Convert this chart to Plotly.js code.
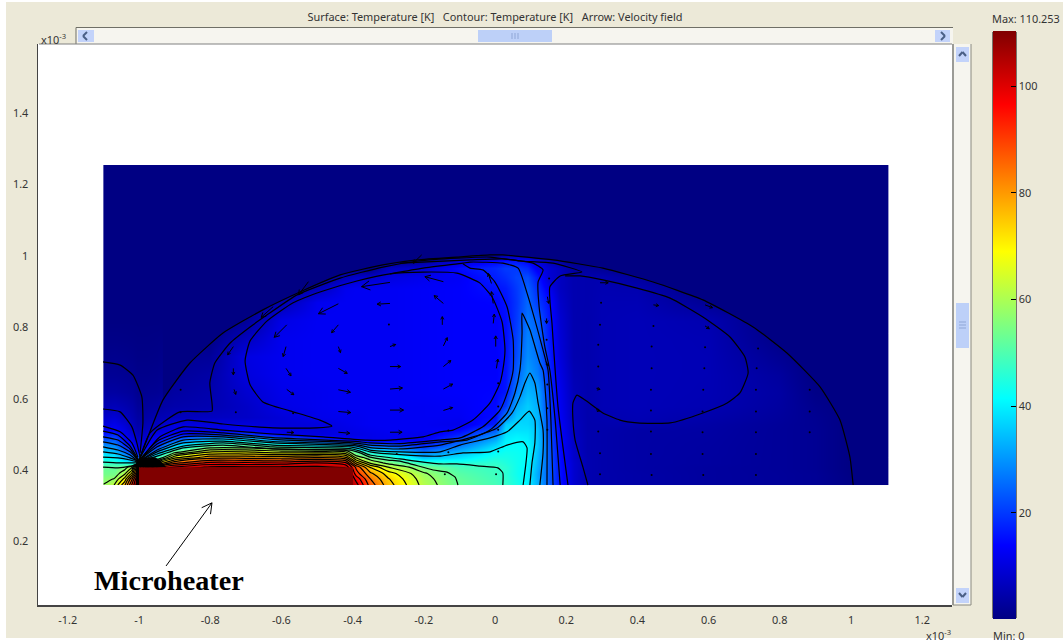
<!DOCTYPE html>
<html><head><meta charset="utf-8"><script src="https://cdn.plot.ly/plotly-3.0.1.min.js"></script>
<style>html,body{margin:0;padding:0;background:#fff}#plot{width:1063px;height:644px}</style></head>
<body><div id="plot"></div>
<script>
// Grid (units of 1e-3 m)
const gridX=[-1.1,-1.07,-1.04,-1.02,-1.005,-.98,-.95,-.9,-.8,-.7,-.6,-.5,-.42,-.39,-.35,-.3,-.2,-.1,0,.03,.06,.09,.12,.15,.18,.22,.26,.3,.4,.6,.8,.9,1,1.104];
const gridY=[.358,.375,.39,.408,.42,.435,.45,.465,.485,.5,.515,.53,.55,.58,.62,.67,.72,.77,.82,.87,.91,.94,.965,.985,1,1.02,1.1,1.255];
const temperature=[
[58,63,78,95,108,110,110,110,110,110,110,110,110,102,87,76,61,52.5,49,47,44,40,33,24,15.75,9,5.25,4.5,4,3,2.5,2,.5,0],
[56,58,70,88,105,110,110,110,110,110,110,110,110,98,84,74,60,52,48.5,46.5,43.5,40,32.5,24,15.5,8.5,5,4.5,4,3,2.5,2,.3,0],
[54,54,62,75,95,110,110,110,110,110,110,110,110,92,80,71,58.5,51,48,46,43,40,32,24,15.5,8.5,5,4.5,4,3,2.5,2,.2,0],
[52.5,52,55,62,88,105,95,100,106,106,106,106,104,88,73,63,54,49,47.5,46,43,40.5,33,24,15.5,8.5,5,4.5,3.8,3,2.4,1.8,0,0],
[47,47,44,42,50,60,72,88,96,96,97,100,96,76,62,56,47,45.5,46.5,45,43,41,33.5,24,15.3,8.5,5,4.5,3.8,3.2,2.4,1.8,0,0],
[42,41,34,28,25,32,50,72,82,82,82,84,80,62,54,49,36,39,44.5,44,42.8,41.5,34,24,15,8,5,4.5,3.8,3.2,2.4,1.8,0,0],
[37,35,26,20,15,20,30,56,69,69,66,66,64,50,44,40,27,34,41.5,43,42.5,41.5,34.5,23.8,15,8,4.8,4.5,3.8,3.3,2.4,1.8,0,0],
[31.5,30,20,15.5,11,14,20,40,55,55,52,46,46,36,30,27,20,28.5,38.5,41.5,42,41,35.5,23.5,14.5,7.5,4.8,4.5,3.8,3.3,2.4,1.8,0,0],
[23,24,15,11,8,10,14,24,38,41,30,20,14,14,11.5,12,13,22,33,40,41,40,35.5,23,14.5,7.5,4.8,4.5,3.8,3.4,2.4,1.8,0,0],
[16,18,12,9,6,8,11,14,18,20,12,10.5,11,11,11.5,12,11.5,17,27.5,38.5,39.5,39,35,22.5,14,7,4.8,4.5,3.8,3.5,2.4,1.8,0,0],
[12,13,10.5,7,5,6.5,8.5,11,11,12,10.5,9.8,11,11.5,12,12.5,12.5,13.5,22.5,37.5,38,38,35,22,14,7,4.7,4.6,3.9,3.6,2.4,1.8,0,0],
[10,11.5,9,6,4,5.5,7,10.5,10,10,9.5,10,11.5,12,12.5,12.5,12.5,11.5,17,35.5,37.5,37,34,21.5,13.5,7,4.7,4.7,5,3.8,2.5,1.7,0,0],
[8,9,7,5,3.5,4,5.2,6.5,7,7.5,9.5,11.5,12,12,12.5,12.5,12.5,12.5,15,28,35.5,36.5,33.5,21,13,6.5,4.7,5,5.5,4.4,2.8,1.6,0,0],
[5.5,6,5,4,2.5,2.8,3.5,4.5,5.2,7.5,11,12,12.5,12.5,12.5,12.5,12.5,13,14.5,20,32.5,36,32.5,20.5,12.5,6.5,4.7,5.5,5.8,5.2,3.2,1.2,0,0],
[3.5,3.5,3,2.5,1.5,1.8,2,3.5,4.8,8.5,11.5,12,12.5,12.5,12.5,12.5,13,13.5,14,16,27.5,33.5,31.5,19.5,12,6,4.7,5.5,5.8,5.4,3.5,.5,0,0],
[2,2,1.8,1.5,1,1,1.2,2.5,4,10,12,12.5,12.5,12.5,12.5,12.5,13,13.5,13.5,15.5,24,31,27.5,18.5,11,5.5,4.7,5.5,5.8,5.5,3,0,0,0],
[1,1.2,1,.8,.5,.5,.6,2,2.5,10.5,12,12.5,12.5,12.5,12.5,12.5,13,13.5,13.5,15,22,29,26,17.5,10,5,4.7,5.5,5.8,5.5,1.8,0,0,0],
[.5,.5,.4,.3,.2,.2,.3,.8,.5,6.5,12,12.5,12.5,12.5,12.5,12.5,13,13.5,13.5,15,21,28,25,17,9.5,5,4.7,5.5,5.8,5.4,.5,0,0,0],
[0,0,0,0,0,0,0,0,0,2,11,12.5,12.5,12.5,12.5,12.5,13,13.5,13.5,15,20,26.5,24,16.5,9,5,4.7,5.5,5.8,5,0,0,0,0],
[0,0,0,0,0,0,0,0,0,0,5,12,12.5,12.5,12.5,12.5,13,13.5,14,15.5,19.5,25,20,15.5,8,5,4.8,5.4,5.5,2,0,0,0,0],
[0,0,0,0,0,0,0,0,0,0,0,6,12,12.5,12.5,12.5,13,13.5,15.5,16.5,20,24,18,12,7,5,4.8,5.2,5,0,0,0,0,0],
[0,0,0,0,0,0,0,0,0,0,0,0,6,8,8,10.5,12,13,17,18.5,21,22,16,9,7,5,4.8,5,3,0,0,0,0,0],
[0,0,0,0,0,0,0,0,0,0,0,0,0,0,0,7,9,15,18,20,20,18,12,9,7,3,3,2,.5,0,0,0,0,0],
[0,0,0,0,0,0,0,0,0,0,0,0,0,0,0,0,2.5,10,14,16,16,14,10,6,4,.5,0,0,0,0,0,0,0,0],
[0,0,0,0,0,0,0,0,0,0,0,0,0,0,0,0,0,1.5,2,5,6,6,3,1,0,0,0,0,0,0,0,0,0,0],
[0,0,0,0,0,0,0,0,0,0,0,0,0,0,0,0,0,0,0,0,0,0,0,0,0,0,0,0,0,0,0,0,0,0],
[0,0,0,0,0,0,0,0,0,0,0,0,0,0,0,0,0,0,0,0,0,0,0,0,0,0,0,0,0,0,0,0,0,0],
[0,0,0,0,0,0,0,0,0,0,0,0,0,0,0,0,0,0,0,0,0,0,0,0,0,0,0,0,0,0,0,0,0,0]];

// Traced isotherms
const dropX=[-1.003,-.992,-.933,-.857,-.764,-.652,-.548,-.435,-.315,-.219,-.107,-.014,.022,.163,.303,.444,.584,.725,.82,.913,.969,.997,1.006];
const dropY=[.4225,.448,.596,.7,.784,.849,.899,.947,.975,.989,.997,1.003,1.003,.989,.966,.927,.877,.801,.728,.633,.54,.436,.358];
const outerX=[-.997,-.969,-.885,-.795,-.795,-.801,-.787,-.744,-.688,-.64,-.556,-.435,-.315,-.216,-.107,-.014,.07,.163,.244,.183,.154,.16,.177,.205];
const outerY=[.436,.504,.563,.565,.588,.644,.7,.756,.801,.835,.891,.938,.969,.986,.994,.997,.986,.98,.955,.944,.913,.812,.577,.358];
const loopX=[.261,.247,.225,.219,.219,.23,.253,.303,.351,.399,.492,.584,.652,.688,.711,.702,.66,.584,.492,.399,.303,.239,.197];
const loopY=[.358,.408,.484,.54,.588,.61,.596,.56,.54,.532,.532,.56,.588,.616,.672,.717,.773,.829,.882,.91,.933,.944,.944];
const coreX=[-.997,-.949,-.865,-.764,-.624,-.501,-.458,-.492,-.576,-.652,-.688,-.702,-.688,-.64,-.567,-.483,-.388,-.295,-.202,-.107,-.07,-.042,-.008,.02,.028,.022,.014,-.014,-.062,-.118,-.154,-.202,-.295,-.36,-.483,-.624,-.764,-.876,-.941,-.992];
const coreY=[.434,.512,.54,.529,.518,.518,.523,.54,.566,.591,.639,.706,.762,.818,.869,.902,.93,.95,.955,.952,.938,.924,.885,.815,.736,.68,.644,.588,.54,.512,.507,.493,.484,.484,.493,.501,.512,.521,.493,.434];
const ringAX=[-.09,-.07,-.034,0,.034,.051,.051,.037,.014,-.034,-.098,-.154,-.267,-.351,-.379,-.407,-.624,-.764,-.876,-.949,-.994];
const ringAY=[.978,.966,.961,.927,.857,.765,.68,.624,.568,.521,.49,.484,.474,.476,.479,.481,.491,.504,.509,.481,.434];
const ringBX=[-.295,-.202,-.09,-.07,.022,.065,.09,.112,.135,.149,.157,.163];
const ringBY=[.95,.966,.98,.983,.98,.966,.896,.821,.736,.68,.54,.358];
const hookX=[-.267,-.07,.022,.107,.135,.121,.124,.14,.154,.169,.183];
const hookY=[.98,.989,.992,.98,.961,.927,.857,.745,.68,.54,.358];
const peakAX=[.146,.146,.14,.135,.126,.098,.076,.076,.07,.056,.034,-.014,-.079,-.154,-.267,-.351,-.379,-.407,-.624,-.764,-.876,-.949,-.994];
const peakAY=[.358,.54,.638,.68,.7,.793,.84,.784,.68,.616,.56,.512,.484,.479,.467,.47,.474,.477,.486,.498,.501,.473,.431];
const peakBX=[.126,.135,.135,.121,.112,.098,.084,.07,.048,.006,-.062,-.154,-.267,-.351,-.379,-.407,-.624,-.764,-.876,-.949,-.994];
const peakBY=[.358,.448,.512,.588,.644,.672,.644,.605,.56,.518,.493,.47,.459,.463,.469,.473,.48,.493,.493,.465,.431];
const peakCX=[.098,.104,.112,.112,.096,.07,.034,-.014,-.098,-.154,-.267,-.351,-.379,-.407,-.624,-.764,-.876,-.949,-.994];
const peakCY=[.358,.42,.476,.54,.565,.54,.507,.49,.47,.451,.451,.456,.465,.469,.476,.487,.484,.456,.428];
const peakDX=[.079,.087,.09,.079,.034,-.014,-.09,-.154,-.267,-.351,-.379,-.407,-.624,-.764,-.876,-.949,-.994];
const peakDY=[.358,.42,.462,.479,.47,.451,.448,.439,.443,.451,.459,.465,.47,.481,.476,.451,.428];
const bandAX=[.022,.022,.008,-.042,-.107,-.154,-.267,-.351,-.379,-.407,-.624,-.764,-.876,-.949,-.994];
const bandAY=[.358,.392,.406,.411,.417,.417,.431,.442,.453,.46,.465,.476,.467,.445,.425];
const bandBX=[-.104,-.112,-.135,-.174,-.267,-.301,-.351,-.379,-.407,-.624,-.764,-.876,-.949,-.994];
const bandBY=[.358,.38,.394,.4,.425,.428,.436,.448,.456,.459,.47,.462,.439,.425];
const leftArcAX=[-1.101,-1.053,-1.017,-.992,-.989,-.997];
const leftArcAY=[.703,.694,.666,.605,.532,.448];
const leftArcBX=[-1.101,-1.053,-1.02,-1.006,-.997];
const leftArcBY=[.571,.563,.521,.476,.436];
const leftArcCX=[-1.101,-1.053,-1.02,-1.003];
const leftArcCY=[.523,.507,.476,.436];
const leftFanX=[-1.101,-1.059,-1.025,-1.003];
const leftFanY=[[.509,.498,.467,.431],[.493,.484,.459,.428],[.479,.47,.451,.428],[.465,.456,.442,.425],[.451,.445,.434,.425],[.436,.434,.428,.422],[.422,.42,.42,.42],[.408,.406,.411,.417]];
const heaterX=[-1,-.399,-.399,-1,-1];
const heaterY=[.358,.358,.408,.408,.358];
const clusterX=[-1.008,-1.008,-1,-.955,-.941,-.924,-1,-1];
const clusterY=[.358,.422,.434,.436,.428,.408,.408,.358];

// Velocity arrows: tail x, tail y, tip x, tip y
const arrowTailX=[-.295,-.44,-.295,-.145,-.145,-.585,-.44,-.148,-.735,-.587,-.44,-.295,-.145,-.735,-.587,-.44,-.295,-.145,-.733,-.585,-.44,-.295,-.145,-.44,-.295,-.145,-.585,-.44,-.295,-.005,.002,.004,-.005,-.01,-.623,-.524,-.206,.295,.445,.59,.59,.147,.145,.143,.285,.284];
const arrowTailY=[.926,.866,.867,.928,.867,.807,.807,.807,.746,.746,.746,.746,.748,.685,.685,.685,.69,.69,.626,.626,.625,.627,.627,.564,.568,.567,.506,.506,.506,.811,.746,.685,.867,.923,.858,.928,1.003,.925,.863,.863,.804,.886,.825,.704,.629,.569];
const arrowTipX=[-.375,-.496,-.331,-.197,-.171,-.62,-.459,-.148,-.751,-.595,-.434,-.279,-.134,-.735,-.573,-.415,-.265,-.124,-.728,-.565,-.406,-.26,-.119,-.405,-.257,-.119,-.565,-.408,-.261,-.002,.002,.008,-.01,-.019,-.657,-.552,-.23,.318,.46,.611,.602,.151,.145,.15,.295,.295];
const arrowTipY=[.914,.838,.865,.942,.889,.772,.785,.83,.723,.718,.729,.752,.771,.667,.664,.671,.69,.707,.612,.611,.618,.63,.641,.561,.568,.575,.505,.503,.506,.837,.776,.711,.9,.951,.828,.891,.98,.925,.861,.855,.796,.867,.811,.692,.626,.566];
// Almost zero velocity vectors
const dotX=[.298,.152,.145,.147,.147,.147,.29,.29,.29,.295,.295,.44,.44,.438,.438,.438,.438,.44,.445,.295,.59,.588,.585,.583,.583,.583,.585,.739,.735,.733,.733,.733,.733,.733,.884,.884,.884,-.883,-.883,-.728,-.298,-.567,-.131,.009,-.131,.009,.009,.009,-.276,-.141,.003];
const dotY=[.869,.937,.765,.64,.573,.513,.751,.69,.508,.447,.388,.746,.685,.625,.567,.508,.445,.386,.804,.807,.744,.685,.625,.564,.506,.445,.386,.741,.685,.625,.564,.506,.445,.386,.625,.564,.506,.625,.562,.562,.808,.559,.511,.513,.45,.452,.578,.643,.445,.388,.388];
// Pointer to the heater
const pointerX=[-.924,-.795];
const pointerY=[.131,.308];

const xTickVals=[-1.2,-1,-.8,-.6,-.4,-.2,0,.2,.4,.6,.8,1,1.2];
const xTickText=['-1.2','-1','-0.8','-0.6','-0.4','-0.2','0','0.2','0.4','0.6','0.8','1','1.2'];
const yTickVals=[.2,.4,.6,.8,1,1.2,1.4];
const yTickText=['0.2','0.4','0.6','0.8','1','1.2','1.4'];
const barTicks=[0,20,40,60,80,100];
const tMax=110.253;
const jet=[[0,'rgb(0,0,131)'],[.125,'rgb(0,0,255)'],[.375,'rgb(0,255,255)'],[.625,'rgb(255,255,0)'],[.875,'rgb(255,0,0)'],[1,'rgb(128,0,0)']];
const tickFont={family:'"Noto Sans",sans-serif',size:10.9,color:'#333'};

// Plot frame in window pixels
const L=38,T=44,R=952,B=605;
const px=x=>(x-L)/(R-L), py=y=>(B-y)/(B-T);

// edge columns are doubled so the heat map stops on the domain edge
const eps=1e-4;
const hx=[gridX[0],gridX[0]+eps,...gridX.slice(1,-1),gridX[gridX.length-1]-eps,gridX[gridX.length-1]];
const hy=[gridY[0],gridY[0]+eps,...gridY.slice(1,-1),gridY[gridY.length-1]-eps,gridY[gridY.length-1]];
const padRow=r=>[r[0],...r,r[r.length-1]];
const padded=temperature.map(padRow);
const hz=[padded[0],...padded,padded[padded.length-1]];

function arrows(tx,ty,hxs,hys,fixed){
  const X=[],Y=[];
  for(let i=0;i<tx.length;i++){
    const dx=hxs[i]-tx[i],dy=hys[i]-ty[i],len=Math.hypot(dx,dy),a=Math.atan2(dy,dx);
    const h=fixed||Math.max(.009,len*.33);
    X.push(tx[i],hxs[i],null,hxs[i]-h*Math.cos(a-.5),hxs[i],hxs[i]-h*Math.cos(a+.5),null);
    Y.push(ty[i],hys[i],null,hys[i]-h*Math.sin(a-.5),hys[i],hys[i]-h*Math.sin(a+.5),null);
  }
  return {X,Y};
}
const vel=arrows(arrowTailX,arrowTailY,arrowTipX,arrowTipY);
const ptr=arrows([pointerX[0]],[pointerY[0]],[pointerX[1]],[pointerY[1]],.032);

// navy mask above the free surface keeps its edge sharp
const m0=2;
const xEnd=gridX[gridX.length-1];
const maskX=[...dropX.slice(m0),xEnd,xEnd,dropX[m0],dropX[m0]];
const maskY=[...dropY.slice(m0),gridY[0],gridY[gridY.length-1],gridY[gridY.length-1],dropY[m0]];

const line=(x,y)=>({type:'scatter',mode:'lines',x,y,line:{color:'#000',width:1.2,shape:'spline',smoothing:.5},hoverinfo:'skip',showlegend:false});
const data=[
 {type:'heatmap',x:hx,y:hy,z:hz,zmin:0,zmax:tMax,zsmooth:'best',colorscale:jet,hoverinfo:'skip',
  colorbar:{xref:'container',yref:'container',x:993/1063,xanchor:'left',y:1-36/644,yanchor:'top',thickness:23,thicknessmode:'pixels',len:588,lenmode:'pixels',xpad:0,ypad:0,outlinewidth:0,tick0:0,dtick:20,ticks:'inside',ticklen:5,tickcolor:'#000',tickfont:tickFont,borderwidth:0}},
 {type:'contour',x:gridX,y:gridY,z:temperature,contours:{coloring:'none',start:57.75,end:105,size:5.25},line:{color:'#000',width:1.2,smoothing:.8},showscale:false,hoverinfo:'skip'},
 {type:'scatter',mode:'none',x:maskX,y:maskY,fill:'toself',fillcolor:'rgb(0,0,131)',hoverinfo:'skip',showlegend:false},
 {type:'scatter',mode:'none',x:heaterX,y:heaterY,fill:'toself',fillcolor:'rgb(128,0,0)',hoverinfo:'skip',showlegend:false},
 {type:'scatter',mode:'none',x:clusterX,y:clusterY,fill:'toself',fillcolor:'#000',hoverinfo:'skip',showlegend:false},
 line(dropX,dropY),line(outerX,outerY),line(loopX,loopY),line(coreX,coreY),line(ringAX,ringAY),line(ringBX,ringBY),line(hookX,hookY),
 line(peakAX,peakAY),line(peakBX,peakBY),line(peakCX,peakCY),line(peakDX,peakDY),line(bandAX,bandAY),line(bandBX,bandBY),
 line(leftArcAX,leftArcAY),line(leftArcBX,leftArcBY),line(leftArcCX,leftArcCY),
 ...leftFanY.map(y=>line(leftFanX,y)),
 {type:'scatter',mode:'lines',x:vel.X,y:vel.Y,line:{color:'#000',width:1},hoverinfo:'skip',showlegend:false},
 {type:'scatter',mode:'markers',x:dotX,y:dotY,marker:{color:'#000',size:2},hoverinfo:'skip',showlegend:false},
 {type:'scatter',mode:'lines',x:ptr.X,y:ptr.Y,line:{color:'#000',width:1},hoverinfo:'skip',showlegend:false}
];

// window chrome
const rect=(x0,y0,x1,y1,fill,lc)=>({type:'rect',xref:'paper',yref:'paper',x0:px(x0),x1:px(x1),y0:py(y0),y1:py(y1),fillcolor:fill,line:lc?{color:lc,width:1}:{width:0},layer:'above'});
const seg=(x0,y0,x1,y1,c,w)=>({type:'line',xref:'paper',yref:'paper',x0:px(x0),x1:px(x1),y0:py(y0),y1:py(y1),line:{color:c,width:w},layer:'above'});
const btn='#C3D3FA',chev='#4A5F85';
const shapes=[
 rect(0,0,1063,2,'#fff'),rect(0,0,6,644,'#fff'),rect(0,638,1063,644,'#fff'),
 rect(76,28,953,44,'#F6F5EF'),seg(76,27.5,953,27.5,'#6f6f66',1),seg(76,27.5,76,44,'#6f6f66',1),seg(39,44,952,44,'#808080',1),
 rect(954,44,971,605,'#F6F5EF'),seg(971,44,971,605,'#8a8a80',1),seg(953,44,953,605,'#808080',1.5),seg(953,605,971,605,'#8a8a80',1),
 rect(78,30,94,42,btn),seg(87,32,83,36,chev,2),seg(83,36,87,40,chev,2),
 rect(935,30,950,42,btn),seg(941,32,945,36,chev,2),seg(945,36,941,40,chev,2),
 rect(478,30,552,42,'#BDD0F8'),seg(512,33,512,39,'#8FA6D6',1),seg(515,33,515,39,'#8FA6D6',1),seg(518,33,518,39,'#8FA6D6',1),
 rect(956,47,969,62,btn),seg(959,56,962.5,52,chev,2),seg(962.5,52,966,56,chev,2),
 rect(956,588,969,603,btn),seg(959,593,962.5,597,chev,2),seg(962.5,597,966,593,chev,2),
 rect(956,303,969,348,'#BDD0F8'),seg(959,322,966,322,'#8FA6D6',1),seg(959,325,966,325,'#8FA6D6',1),seg(959,328,966,328,'#8FA6D6',1),
 rect(993,32,1016,618,'rgba(0,0,0,0)','#000'),
 ...barTicks.slice(1).map(v=>seg(993,618-v/tMax*586,998,618-v/tMax*586,'#000',1))
];
const ann=(x,y,text,anchor,size)=>({xref:'paper',yref:'paper',x:px(x),y:py(y),text,showarrow:false,xanchor:anchor,yanchor:'middle',font:{...tickFont,size:size||10.9}});
const annotations=[
 ann(39,39,'x10<sup>-3</sup>','left'),
 ann(924,635,'x10<sup>-3</sup>','left'),
 ann(990,19,'Max: 110.253','left'),
 ann(991,635,'Min: 0','left'),
 {xref:'x',yref:'y',x:-.917,y:.089,text:'<b>Microheater</b>',showarrow:false,xanchor:'center',yanchor:'middle',font:{family:'"Liberation Serif",serif',size:28.2,color:'#000'}}
];
const layout={
 width:1063,height:644,paper_bgcolor:'#ECE9D8',plot_bgcolor:'#fff',showlegend:false,
 margin:{l:L,r:1063-R,t:T,b:644-B,pad:0},
 title:{text:'Surface: Temperature [K]\u00a0\u00a0\u00a0Contour: Temperature [K]\u00a0\u00a0\u00a0Arrow: Velocity field',x:495/1063,xanchor:'center',y:1-17/644,yanchor:'middle',font:{...tickFont}},
 xaxis:{range:[-1.2837,1.2837],tickmode:'array',tickvals:xTickVals,ticktext:xTickText,showgrid:false,zeroline:false,showline:true,linecolor:'#444',linewidth:1.5,ticks:'',tickfont:tickFont,ticklabelstandoff:4},
 yaxis:{range:[.0216,1.5943],tickmode:'array',tickvals:yTickVals,ticktext:yTickText,showgrid:false,zeroline:false,showline:true,linecolor:'#444',linewidth:1.5,ticks:'',tickfont:tickFont,ticklabelstandoff:6},
 shapes,annotations
};
Plotly.newPlot('plot',data,layout,{displayModeBar:false,staticPlot:true});
</script></body></html>
